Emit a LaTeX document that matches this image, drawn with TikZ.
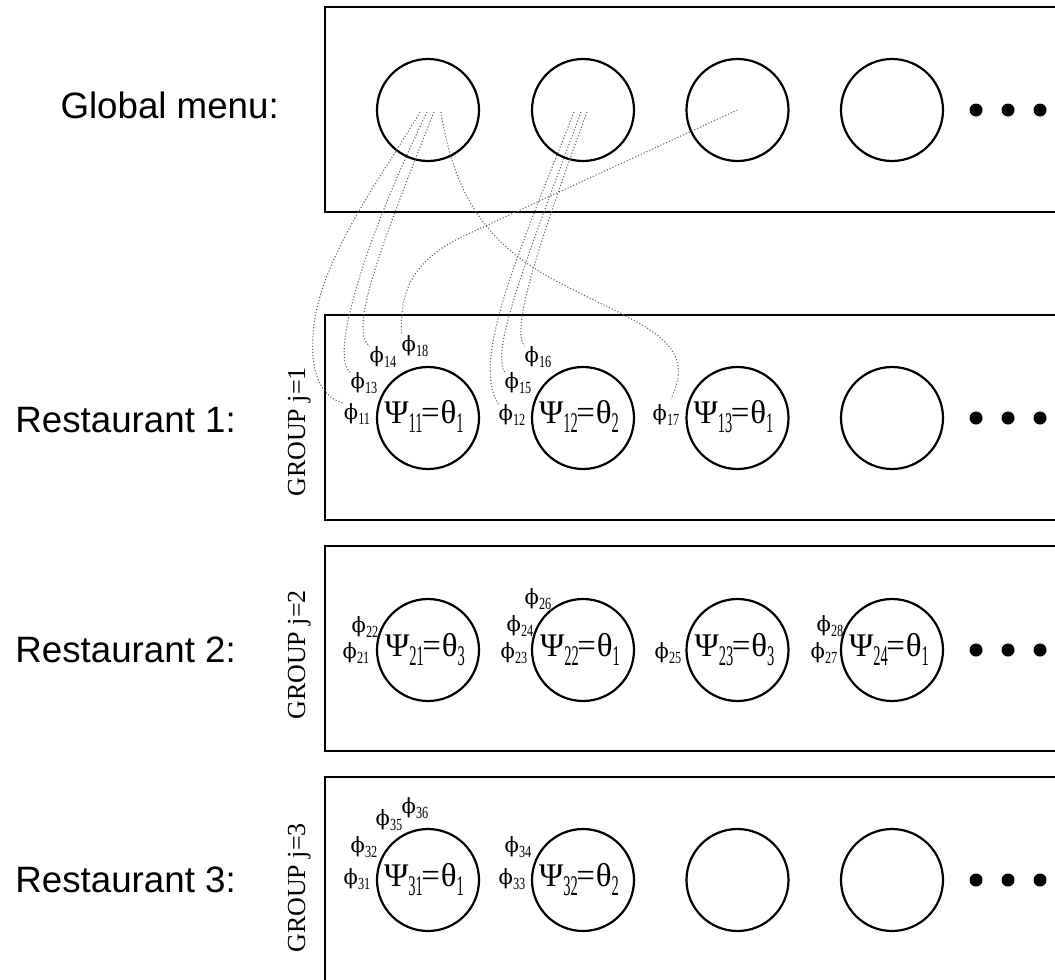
\documentclass[tikz,border=0pt]{standalone}
\usepackage{fontspec}
\setmainfont{Liberation Serif}
\newfontfamily\sansfont{Liberation Sans}
\newfontfamily\phifont{DejaVu Serif}
\usetikzlibrary{calc}

\newcommand\fsz[1]{\fontsize{#1}{#1}\selectfont}
% narrow, lowered indices
\newcommand\tsub[1]{\raisebox{-9pt}{\scalebox{0.48}[0.95]{\fsz{30}#1}}}
\newcommand\psub[1]{\raisebox{-5pt}{\scalebox{0.72}[1]{\fsz{17}#1}}}
\newcommand\dishval[2]{Ψ\tsub{#1}\kern-1.5pt=\kern1ptθ\tsub{#2}}
\newcommand\cust[1]{{\phifont\fsz{21}ϕ}\psub{#1}}

\tikzset{
  panel/.style={draw, line width=2.2pt},
  tablenode/.style={circle, draw, line width=2.2pt, minimum size=102pt, inner sep=0pt},
  dishtext/.style={font=\fsz{33}, inner sep=0pt, anchor=base},
  custnode/.style={font=\fsz{20}, inner sep=0pt},
  rowlabel/.style={font=\sansfont\fsz{36.7}, inner sep=0pt, anchor=base east},
  grouplabel/.style={font=\fsz{26}, inner sep=0pt, anchor=base, rotate=90},
  moredot/.style={circle, fill, inner sep=0pt, minimum size=13pt},
  link/.style={draw=black!60, line width=1.1pt, dotted},
}

\begin{document}
\begin{tikzpicture}[x=1pt,y=-1pt]
\useasboundingbox (0,0) rectangle (1055,980);
\clip (0,0) rectangle (1055,980);

% panels (open to the right)
\draw[panel] (325,7)   rectangle (1080,212);
\draw[panel] (325,315) rectangle (1080,520);
\draw[panel] (325,546) rectangle (1080,751);
\draw[panel] (325,777) rectangle (1080,1000);

% row labels
\node[rowlabel] (lg) at (279,118) {Global menu:};
\node[rowlabel] (l1) at (236,432) {Restaurant 1:};
\node[rowlabel] (l2) at (236,662) {Restaurant 2:};
\node[rowlabel] (l3) at (236,892) {Restaurant 3:};
\node[grouplabel] (grp1) at (305,432) {GROUP j=1};
\node[grouplabel] (grp2) at (305,655) {GROUP j=2};
\node[grouplabel] (grp3) at (305,888) {GROUP j=3};

% dishes and tables
\foreach \i/\x in {1/428,2/583,3/737.5,4/892}{
  \node[tablenode] (g\i) at (\x,110) {};
  \node[tablenode] (r1\i) at (\x,418) {};
  \node[tablenode] (r2\i) at (\x,650) {};
  \node[tablenode] (r3\i) at (\x,880) {};
}
\foreach \row/\y in {g/110,a/418,b/650,c/880}
  \foreach \k/\x in {1/976,2/1008,3/1040}
    \node[moredot] (dot\row\k) at (\x,\y) {};

% dish values at the tables
\node[dishtext] (d11) at ($(r11)+(-4,5)$) {\dishval{11}{1}};
\node[dishtext] (d12) at ($(r12)+(-4,5)$) {\dishval{12}{2}};
\node[dishtext] (d13) at ($(r13)+(-4,5)$) {\dishval{13}{1}};
\node[dishtext] (d21) at ($(r21)+(-3,6)$) {\dishval{21}{3}};
\node[dishtext] (d22) at ($(r22)+(-3,6)$) {\dishval{22}{1}};
\node[dishtext] (d23) at ($(r23)+(-3,6)$) {\dishval{23}{3}};
\node[dishtext] (d24) at ($(r24)+(-3,6)$) {\dishval{24}{1}};
\node[dishtext] (d31) at ($(r31)+(-4,6)$) {\dishval{31}{1}};
\node[dishtext] (d32) at ($(r32)+(-4,6)$) {\dishval{32}{2}};

% customers, restaurant 1
\node[custnode] (p11) at (357,414) {\cust{11}};
\node[custnode] (p13) at (364,383) {\cust{13}};
\node[custnode] (p14) at (383,357) {\cust{14}};
\node[custnode] (p18) at (415,346) {\cust{18}};
\node[custnode] (p12) at (512,415) {\cust{12}};
\node[custnode] (p15) at (518,383) {\cust{15}};
\node[custnode] (p16) at (538,357) {\cust{16}};
\node[custnode] (p17) at (666,415) {\cust{17}};
% customers, restaurant 2
\node[custnode] (p21) at (356,653) {\cust{21}};
\node[custnode] (p22) at (365,627) {\cust{22}};
\node[custnode] (p23) at (514,653) {\cust{23}};
\node[custnode] (p24) at (520,626) {\cust{24}};
\node[custnode] (p26) at (538,599) {\cust{26}};
\node[custnode] (p25) at (668,653) {\cust{25}};
\node[custnode] (p27) at (824,653) {\cust{27}};
\node[custnode] (p28) at (830,626) {\cust{28}};
% customers, restaurant 3
\node[custnode] (p31) at (357,879) {\cust{31}};
\node[custnode] (p32) at (364,847) {\cust{32}};
\node[custnode] (p35) at (389,820) {\cust{35}};
\node[custnode] (p36) at (415,808) {\cust{36}};
\node[custnode] (p33) at (512,879) {\cust{33}};
\node[custnode] (p34) at (518,847) {\cust{34}};

% where the links leave the global dishes
\coordinate (g1a) at ($(g1)+(-8,2)$);
\coordinate (g1b) at ($(g1)+(-1,2)$);
\coordinate (g1c) at ($(g1)+(6,2)$);
\coordinate (g1d) at ($(g1)+(13,2)$);
\coordinate (g2a) at ($(g2)+(-9,2)$);
\coordinate (g2b) at ($(g2)+(-2,2)$);
\coordinate (g2c) at ($(g2)+(4,2)$);

% links from global dishes to customers
\draw[link] (g1a) .. controls (380,180) and (318,260) .. (313,335)
                  .. controls (310,380) and (325,398) .. (p11.north west);
\draw[link] (g1b) .. controls (360,250) and (330,360) .. (p13.north west);
\draw[link] (g1c) .. controls (375,260) and (350,330) .. (p14.north west);
\draw[link] (g1d) .. controls (455,200) and (490,247) .. (560,283)
                  .. controls (640,325) and (700,340) .. ($(p17.north)+(5,-6)$);
\draw[link] (g3.center) -- (470,233) .. controls (420,256) and (399,282) .. (p18.north west);
\draw[link] (g2a) .. controls (520,250) and (470,360) .. (p12.north west);
\draw[link] (g2b) .. controls (530,250) and (490,350) .. (p15.north west);
\draw[link] (g2c) .. controls (540,240) and (510,330) .. (p16.north west);
\end{tikzpicture}
\end{document}
